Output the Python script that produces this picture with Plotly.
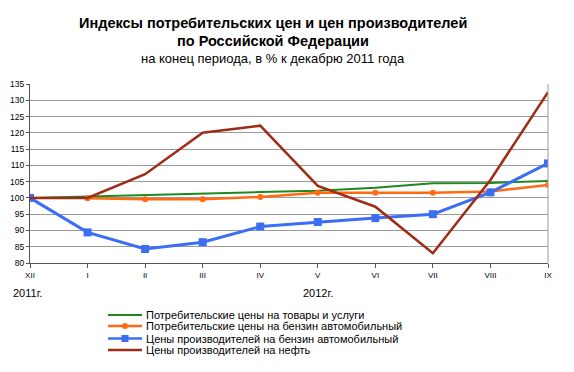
import plotly.graph_objects as go

months = ["XII", "I", "II", "III", "IV", "V", "VI", "VII", "VIII", "IX"]
cpi_total = [100.0, 100.5, 100.9, 101.5, 101.8, 102.2, 103.1, 104.5, 104.6, 105.2]
cpi_gasoline = [None, 99.9, 99.6, 99.6, 100.3, 101.6, 101.6, 101.6, 102.0, 104.0]
ppi_gasoline = [100.0, 89.4, 84.3, 86.4, 91.2, 92.6, 93.8, 95.0, 101.7, 110.6]
ppi_oil = [100.0, 100.0, 107.3, 120.0, 122.2, 103.7, 97.3, 83.0, 105.5, 132.5]
y_ticks = list(range(80, 136, 5))

names = [
    "Потребительские цены на товары и услуги",
    "Потребительские цены на бензин автомобильный",
    "Цены производителей на бензин автомобильный",
    "Цены производителей на нефть",
]
title_lines = [
    "Индексы потребительских цен и цен производителей",
    "по Российской Федерации",
    "на конец периода, в % к декабрю 2011 года",
]
colors = ["#1E8A1E", "#FF6A13", "#3B6EF5", "#9E2C17"]
widths = [2, 2.5, 3, 2.5]
symbols = [None, "circle", "square", None]
msizes = [0, 6, 8, 0]

# the page body adds an 8px margin, so the figure is laid out 8px smaller
OFF = 8
W, H = 574 - OFF, 372 - OFF
L, R, T, B = 30 - OFF, 26, 84 - OFF, 109
PW, PH = W - L - R, H - T - B


def px_x(px):  # screenshot pixel -> paper
    return (px - OFF - L) / PW


def px_y(py):
    return (H - B - (py - OFF)) / PH


x = list(range(len(months)))
series = [cpi_total, cpi_gasoline, ppi_gasoline, ppi_oil]
fig = go.Figure()
for i, s in enumerate(series):
    fig.add_trace(go.Scatter(
        x=x, y=s, name=names[i],
        mode="lines+markers" if symbols[i] else "lines",
        line=dict(color=colors[i], width=widths[i]),
        marker=dict(symbol=symbols[i] or "circle", size=msizes[i], color=colors[i]),
        showlegend=False))

shapes = [dict(type="line", xref="paper", yref="paper", x0=1, x1=1, y0=0, y1=1,
               line=dict(color="#9a9a9a", width=1))]
annotations = [
    dict(text=f"<b>{title_lines[0]}</b>", xref="paper", yref="paper", x=px_x(273), y=px_y(23),
         xanchor="center", yanchor="middle", showarrow=False, font=dict(size=14.5)),
    dict(text=f"<b>{title_lines[1]}</b>", xref="paper", yref="paper", x=px_x(273), y=px_y(41),
         xanchor="center", yanchor="middle", showarrow=False, font=dict(size=14.5)),
    dict(text=title_lines[2], xref="paper", yref="paper", x=px_x(273), y=px_y(58),
         xanchor="center", yanchor="middle", showarrow=False, font=dict(size=13)),
    dict(text="2011г.", xref="paper", yref="paper", x=px_x(11), y=px_y(293),
         xanchor="left", yanchor="middle", showarrow=False, font=dict(size=11)),
    dict(text="2012г.", xref="paper", yref="paper", x=5 / 9, y=px_y(293),
         xanchor="center", yanchor="middle", showarrow=False, font=dict(size=11)),
]

# hand-drawn legend (compact rows as in the reference)
rows = [315, 326, 338.5, 350]
for i in range(4):
    yy = px_y(rows[i])
    shapes.append(dict(type="line", xref="paper", yref="paper",
                       x0=px_x(108), x1=px_x(142), y0=yy, y1=yy,
                       line=dict(color=colors[i], width=min(widths[i], 2.5))))
    annotations.append(dict(text=names[i], xref="paper", yref="paper",
                            x=px_x(144), y=yy, xanchor="left", yanchor="middle",
                            showarrow=False, font=dict(size=11)))
    if symbols[i]:
        h = 3 if symbols[i] == "circle" else 3.5
        shapes.append(dict(type="circle" if symbols[i] == "circle" else "rect",
                           xref="paper", yref="paper",
                           xsizemode="pixel", ysizemode="pixel",
                           xanchor=px_x(125), yanchor=yy,
                           x0=-h, x1=h, y0=-h, y1=h,
                           fillcolor=colors[i], line=dict(width=0)))

fig.update_layout(
    width=W, height=H,
    margin=dict(l=L, r=R, t=T, b=B, autoexpand=False),
    paper_bgcolor="white", plot_bgcolor="white",
    font=dict(family="Liberation Sans, Arial, sans-serif", size=9, color="#000"),
    showlegend=False,
    xaxis=dict(
        range=[0, 9], tickmode="array", tickvals=x, ticktext=months,
        showgrid=False, zeroline=False, showline=True, linecolor="#555", linewidth=1,
        ticks="outside", ticklen=4, tickcolor="#555", mirror=False,
        tickfont=dict(size=8),
    ),
    yaxis=dict(
        range=[80, 135], tickmode="array", tickvals=y_ticks,
        showgrid=True, gridcolor="#9a9a9a", gridwidth=1, zeroline=False,
        showline=True, linecolor="#555", linewidth=1,
        ticks="outside", ticklen=3, tickcolor="#555",
        tickfont=dict(size=8.5),
    ),
    shapes=shapes,
    annotations=annotations,
)

fig.write_html("out.html")
